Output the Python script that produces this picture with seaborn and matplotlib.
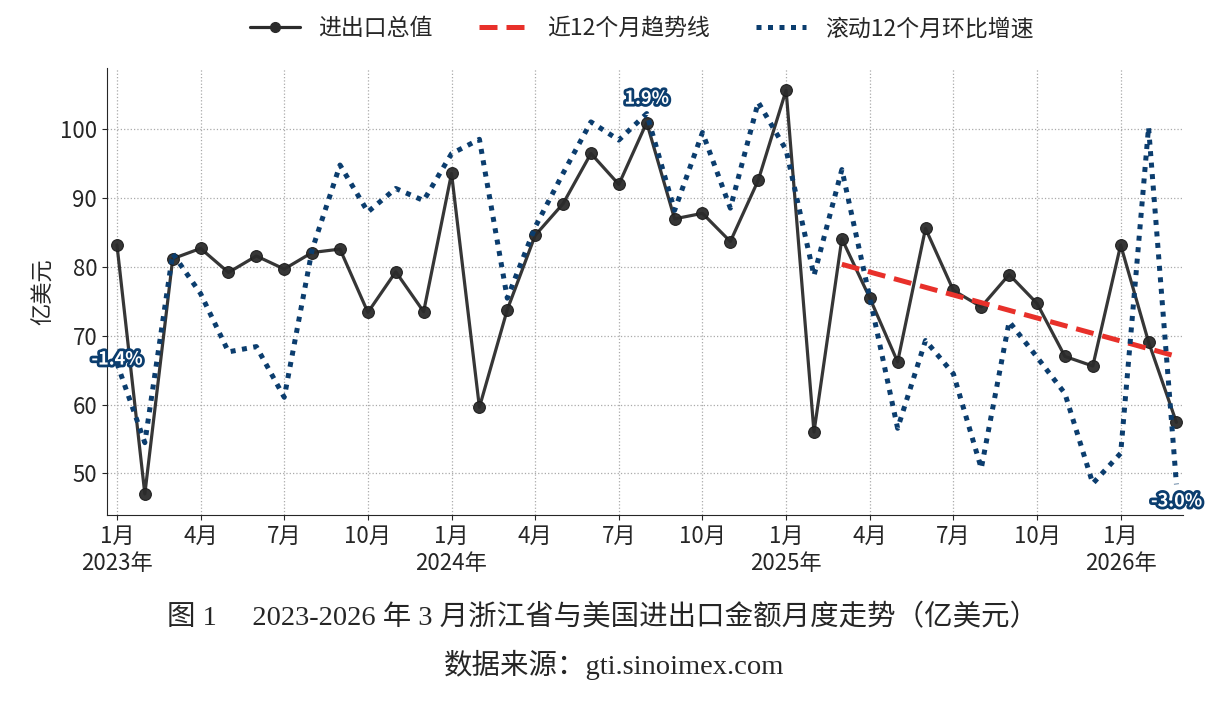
import numpy as np
import pandas as pd
import matplotlib
matplotlib.use("Agg")
import matplotlib.pyplot as plt
import matplotlib.patheffects as pe
from matplotlib.lines import Line2D
import seaborn as sns

# monthly data, Jan 2023 - Mar 2026
years = [2023] * 12 + [2024] * 12 + [2025] * 12 + [2026] * 3
month_no = list(range(1, 13)) * 3 + [1, 2, 3]

# 进出口总值 (亿美元)
total = [83.2, 47.0, 81.2, 82.7, 79.2, 81.6, 79.7, 82.1, 82.6, 73.4, 79.3, 73.5,
         93.6, 59.6, 73.8, 84.6, 89.2, 96.5, 92.0, 101.0, 87.0, 87.8, 83.7, 92.6,
         105.7, 56.0, 84.1, 75.5, 66.2, 85.6, 76.6, 74.2, 78.9, 74.7, 67.0, 65.6,
         83.2, 69.1, 57.4]

# 滚动12个月环比增速 (%)
rolling_rate = [-1.40, -2.45, 0.05, -0.48, -1.25, -1.18, -1.85, 0.10, 1.22, 0.60, 0.91, 0.75,
                1.37, 1.56, -0.54, 0.40, 1.11, 1.79, 1.55, 1.90, 0.62, 1.65, 0.65, 2.05,
                1.42, -0.24, 1.16, -0.53, -2.26, -1.10, -1.54, -2.79, -0.85, -1.32, -1.80, -2.99,
                -2.59, 1.72, -3.00]

label_idx = [0, 19, 38]

df = pd.DataFrame({"idx": range(len(total)), "total": total, "rate": rolling_rate,
                   "year": years, "month": month_no})

sns.set_style("ticks")
plt.rcParams["font.family"] = ["Noto Sans CJK SC", "DejaVu Sans"]
plt.rcParams["axes.unicode_minus"] = False

fig = plt.figure(figsize=(12.15, 7.03), dpi=100)
ax = fig.add_axes([0.088, 0.267, 0.886, 0.636])

# main line
sns.lineplot(data=df, x="idx", y="total", ax=ax, color="#2b2b2b", lw=2.3,
             marker="o", markersize=8.5, markeredgecolor="#1a1a1a", alpha=0.95)

# trend line over the last 13 points
tr = df.iloc[-13:]
k, b = np.polyfit(tr["idx"], tr["total"], 1)
tr = tr.assign(fit=k * tr["idx"] + b)
sns.lineplot(data=tr, x="idx", y="fit", ax=ax, color="#e8302a", lw=3.6)
ax.lines[-1].set_dashes((3.6, 1.8))

ax.set_xlim(-0.36, 38.25)
ax.set_ylim(43.9, 108.9)
ax.set_yticks([50, 60, 70, 80, 90, 100])
ticks = list(range(0, 39, 3))
tlabels = []
for i in ticks:
    lab = f"{df['month'][i]}月"
    if df["month"][i] == 1:
        lab += f"\n{df['year'][i]}年"
    tlabels.append(lab)
ax.set_xticks(ticks)
ax.set_xticklabels(tlabels, fontsize=16, linespacing=1.2)
ax.tick_params(axis="y", labelsize=16)
ax.set_xlabel("")
ax.set_ylabel("亿美元", fontsize=16)
ax.grid(True, ls=":", color="#aaaaaa", lw=0.9)
ax.spines["top"].set_visible(False)
ax.spines["right"].set_visible(False)

# rolling growth on hidden twin axis
ax2 = ax.twinx()
sns.lineplot(data=df, x="idx", y="rate", ax=ax2, color="#0b3d6e", lw=3.6)
ax2.lines[-1].set_dashes((1, 1.3))
ax2.set_ylim(-3.41, 2.50)
ax2.set_yticks([])
ax2.set_ylabel("")
for s in ["top", "right", "left", "bottom"]:
    ax2.spines[s].set_visible(False)

offsets = {0: (0, 3), 19: (0, 11), 38: (0, -12)}
for i in label_idx:
    ax2.annotate(f"{rolling_rate[i]:.1f}%", (i, rolling_rate[i]), xytext=offsets[i],
                 textcoords="offset points", ha="center", va="center",
                 fontsize=13, color="white", fontweight="bold",
                 path_effects=[pe.withStroke(linewidth=4, foreground="#0b3d6e")])

handles = [Line2D([], [], color="#2b2b2b", lw=2.3, marker="o", markersize=7),
           Line2D([], [], color="#e8302a", lw=3.6, dashes=(3.6, 1.8)),
           Line2D([], [], color="#0b3d6e", lw=3.6, dashes=(1, 1.3))]
fig.legend(handles, ["进出口总值", "近12个月趋势线", "滚动12个月环比增速"],
           loc="upper center", bbox_to_anchor=(0.528, 1.005), ncol=3, frameon=False,
           fontsize=16.5, handlelength=2.2, columnspacing=2.0)

serif = ["Liberation Serif", "Noto Sans CJK SC"]
fig.text(0.496, 0.121, "图 1\u3000 2023-2026 年 3 月浙江省与美国进出口金额月度走势（亿美元）",
         ha="center", va="center", fontsize=20.5, family=serif)
fig.text(0.505, 0.054, "数据来源：gti.sinoimex.com", ha="center", va="center",
         fontsize=20.5, family=serif)

fig.savefig("out.png", dpi=100)
